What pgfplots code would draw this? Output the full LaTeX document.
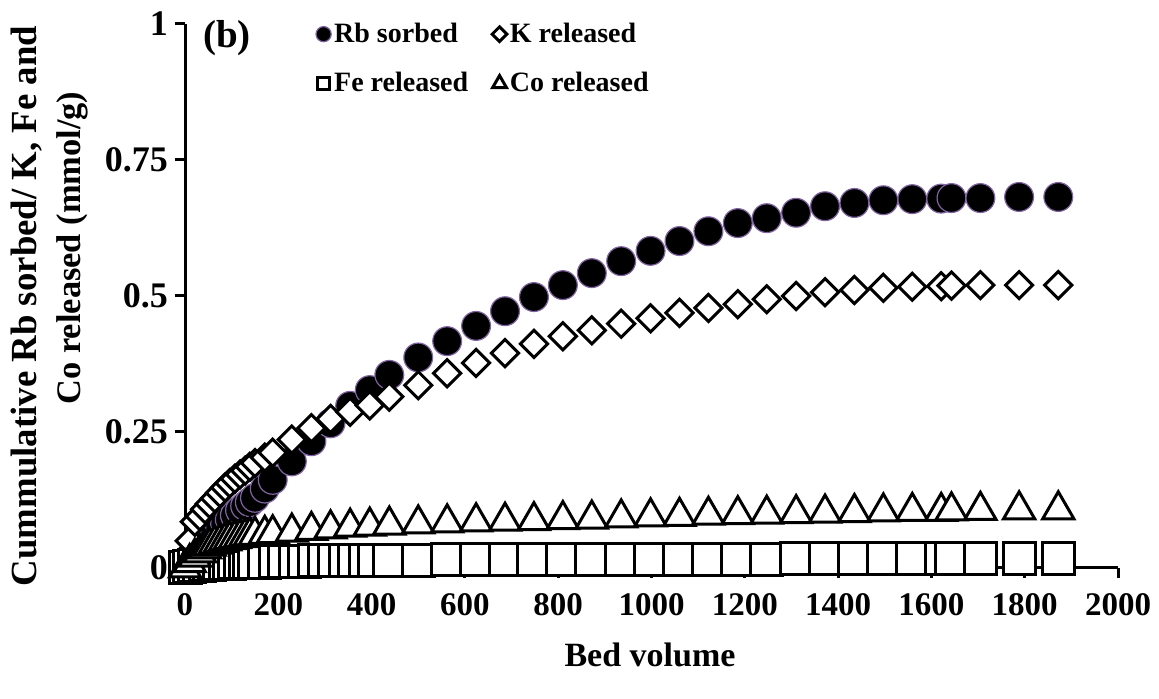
\documentclass[border=0pt]{standalone}
\usepackage{fontspec}
\setmainfont{Liberation Serif}
\usepackage{pgfplots}
\pgfplotsset{compat=1.18}
\definecolor{rbedge}{RGB}{128,100,162}

\pgfplotstableread{
x y
0 0.000
10 0.008
21 0.018
32 0.030
43 0.042
53 0.052
64 0.062
75 0.072
86 0.081
96 0.089
107 0.097
118 0.106
129 0.114
139 0.121
150 0.129
171 0.146
188 0.162
229 0.196
271 0.233
312 0.266
354 0.298
396 0.327
438 0.355
500 0.387
562 0.417
624 0.445
686 0.472
748 0.498
810 0.520
872 0.542
935 0.564
998 0.583
1060 0.601
1122 0.619
1185 0.634
1247 0.643
1310 0.653
1372 0.665
1435 0.671
1497 0.676
1559 0.678
1621 0.679
1643 0.680
1705 0.680
1788 0.682
1872 0.682
}\rbdata

\pgfplotstableread{
x y
0 0.020
10 0.050
21 0.085
32 0.095
43 0.108
53 0.118
64 0.128
75 0.138
86 0.148
96 0.156
107 0.164
118 0.172
129 0.179
139 0.186
150 0.193
171 0.203
188 0.212
229 0.236
271 0.257
312 0.274
354 0.287
396 0.299
438 0.315
500 0.336
562 0.358
624 0.377
686 0.395
748 0.412
810 0.426
872 0.437
935 0.449
998 0.459
1060 0.469
1122 0.478
1185 0.485
1247 0.494
1310 0.500
1372 0.507
1435 0.511
1497 0.515
1559 0.517
1621 0.518
1643 0.519
1705 0.520
1788 0.520
1872 0.520
}\kdata

\pgfplotstableread{
x y
0 0.000
10 0.002
21 0.004
32 0.005
43 0.006
53 0.007
64 0.008
75 0.008
86 0.009
96 0.009
107 0.010
118 0.010
129 0.010
139 0.011
150 0.011
171 0.011
193 0.012
214 0.012
236 0.012
257 0.012
278 0.013
300 0.013
321 0.013
343 0.013
364 0.013
386 0.014
407 0.014
438 0.014
500 0.014
562 0.015
624 0.015
686 0.015
748 0.015
810 0.015
872 0.016
935 0.016
998 0.016
1060 0.016
1122 0.016
1185 0.016
1247 0.016
1310 0.017
1372 0.017
1435 0.017
1497 0.017
1559 0.017
1621 0.017
1643 0.017
1705 0.017
1788 0.017
1872 0.017
}\fedata

\pgfplotstableread{
x y
0 0.000
10 0.010
21 0.020
32 0.028
43 0.035
53 0.040
64 0.044
75 0.047
86 0.050
96 0.052
107 0.054
118 0.056
129 0.058
139 0.059
150 0.060
171 0.062
188 0.063
229 0.066
271 0.069
312 0.072
354 0.075
396 0.077
438 0.079
500 0.081
562 0.083
624 0.085
686 0.086
748 0.087
810 0.089
872 0.090
935 0.092
998 0.094
1060 0.095
1122 0.097
1185 0.098
1247 0.099
1310 0.100
1372 0.101
1435 0.102
1497 0.103
1559 0.104
1621 0.104
1643 0.105
1705 0.106
1788 0.107
1872 0.107
}\codata

\begin{document}
\begin{tikzpicture}
\begin{axis}[
  scale only axis, width=466.5pt, height=272pt,
  at={(0pt,0pt)}, anchor=south west,
  xmin=0, xmax=2000, ymin=0, ymax=1,
  axis x line=bottom, axis y line=left,
  axis line style={line width=1.5pt,-},
  x axis line style={-}, y axis line style={-},
  xtick={0,200,...,2000},
  ytick={0,0.25,0.5,0.75,1},
  yticklabels={0,0.25,0.5,0.75,1},
  tick align=outside,
  major tick length=5pt,
  tick style={line width=1.5pt,black},
  /pgf/number format/assume math mode=true,
  /pgf/number format/1000 sep={},
  xticklabel style={font=\fontsize{16.5}{18}\selectfont\bfseries, yshift=-4pt},
  yticklabel style={font=\fontsize{18}{20}\selectfont\bfseries},
  clip=false,
  legend columns=2,
  legend cell align=left,
  legend image code/.code={\draw[#1] plot coordinates {(0pt,0pt)};},
  legend style={draw=none, fill=none, inner sep=0pt,
    at={(rel axis cs:0.14,1.01)}, anchor=north west,
    font=\fontsize{14}{16}\selectfont\bfseries,
    row sep=9.5pt,
    nodes={inner xsep=1.5pt, inner ysep=2pt},
    /tikz/every even column/.append style={column sep=10.5pt}},
]
\addplot[only marks, mark=*, mark size=7.2pt,
  mark options={fill=black, draw=rbedge, line width=0.6pt},
  legend image post style={mark size=3.8pt}]
  table[x=x,y=y]{\rbdata};
\addlegendentry{Rb sorbed}
\addplot[only marks, mark=square*, mark size=4.8pt,
  mark options={rotate=45, fill=white, draw=black, line width=1.5pt},
  legend image post style={mark size=2.6pt}]
  table[x=x,y=y]{\kdata};
\addlegendentry{K released}
\addplot[only marks, mark=square*, mark size=8pt,
  mark options={fill=white, draw=black, line width=1.5pt},
  legend image post style={mark size=3.1pt}]
  table[x=x,y=y]{\fedata};
\addlegendentry{Fe released}
\addplot[only marks, mark=triangle*, mark size=9pt,
  mark options={fill=white, draw=black, line width=1.5pt},
  legend image post style={mark size=4pt}]
  table[x=x,y=y]{\codata};
\addlegendentry{Co released}
\end{axis}
\node[font=\fontsize{19.5}{22}\selectfont\bfseries, inner sep=0pt] at (21pt,265pt) {(b)};
\node[font=\fontsize{18.4}{20}\selectfont\bfseries, inner sep=0pt, rotate=90] at (-79pt,131pt) {Cummulative Rb sorbed/ K, Fe and};
\node[font=\fontsize{17.2}{20}\selectfont\bfseries, inner sep=0pt, rotate=90] at (-56.5pt,160pt) {Co released (mmol/g)};
\node[font=\fontsize{17}{20}\selectfont\bfseries, inner sep=0pt] at (232.5pt,-43.5pt) {Bed volume};
\pgfresetboundingbox
\useasboundingbox (-92.5pt,-65.5pt) rectangle (487pt,284pt);
\end{tikzpicture}
\end{document}
